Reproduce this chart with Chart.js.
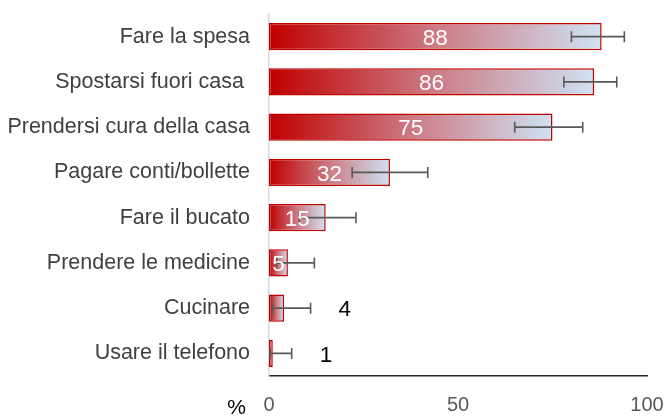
<!DOCTYPE html>
<html>
<head>
<meta charset="utf-8">
<script src="https://cdn.jsdelivr.net/npm/chart.js@4/dist/chart.umd.min.js"></script>
<style>
  body { margin: 0; background: #fff; }
  #wrap { width: 668px; height: 416px; }
</style>
</head>
<body>
<div id="wrap"><canvas id="chart-area" width="668" height="416"></canvas></div>
<script>
var categories = [
  'Fare la spesa',
  'Spostarsi fuori casa ',
  'Prendersi cura della casa',
  'Pagare conti/bollette',
  'Fare il bucato',
  'Prendere le medicine',
  'Cucinare',
  'Usare il telefono'
];
var values = [88, 86, 75, 32, 15, 5, 4, 1];
var errLow = [80, 78, 65, 22, 8, 2, 1, 0.3];
var errHigh = [94, 92, 83, 42, 23, 12, 11, 6];
var xTicks = [0, 50, 100];

var font = "'Liberation Sans', Arial, sans-serif";

function barGradient(c) {
  var chart = c.chart;
  if (!chart.chartArea) return '#c00000';
  var x = chart.scales.x;
  var x0 = x.getPixelForValue(0);
  var x1 = x.getPixelForValue(values[c.dataIndex]);
  var g = chart.ctx.createLinearGradient(x0, 0, x1, 0);
  g.addColorStop(0, '#c00000');
  g.addColorStop(0.5, '#cc7a84');
  g.addColorStop(1, '#cfe2f3');
  return g;
}

// error bars + value labels
var extras = {
  id: 'extras',
  afterDatasetsDraw: function(chart) {
    var ctx = chart.ctx;
    var x = chart.scales.x;
    var meta = chart.getDatasetMeta(0);
    ctx.save();
    ctx.strokeStyle = '#595959';
    ctx.lineWidth = 1.6;
    meta.data.forEach(function(bar, i) {
      var lo = x.getPixelForValue(errLow[i]);
      var hi = x.getPixelForValue(errHigh[i]);
      ctx.beginPath();
      ctx.moveTo(lo, bar.y); ctx.lineTo(hi, bar.y);
      ctx.moveTo(lo, bar.y - 5.5); ctx.lineTo(lo, bar.y + 5.5);
      ctx.moveTo(hi, bar.y - 5.5); ctx.lineTo(hi, bar.y + 5.5);
      ctx.stroke();
    });
    ctx.font = '22.5px ' + font;
    ctx.textBaseline = 'middle';
    meta.data.forEach(function(bar, i) {
      if (values[i] >= 5) {
        ctx.fillStyle = '#ffffff';
        ctx.textAlign = 'center';
        ctx.fillText(values[i], (bar.x + bar.base) / 2, bar.y + 2);
      } else {
        ctx.fillStyle = '#000000';
        ctx.textAlign = 'left';
        ctx.fillText(values[i], x.getPixelForValue(errHigh[i]) + 28, bar.y + 2);
      }
    });
    // axis unit
    ctx.font = '21px ' + font;
    ctx.fillStyle = '#000000';
    ctx.textAlign = 'right';
    ctx.fillText('%', x.left - 23, x.bottom - 8);
    ctx.restore();
  }
};

window.onload = function() {
  var ctx = document.getElementById('chart-area').getContext('2d');
  var config = {
    type: 'bar',
    data: {
      labels: categories,
      datasets: [{
        data: values,
        backgroundColor: barGradient,
        borderColor: '#c00000',
        borderWidth: 1.5,
        borderSkipped: false,
        barPercentage: 0.6,
        categoryPercentage: 1
      }]
    },
    options: {
      indexAxis: 'y',
      responsive: false,
      animation: false,
      layout: { padding: { top: 14, right: 21, left: 0, bottom: 0 } },
      plugins: {
        legend: { display: false },
        tooltip: { enabled: false }
      },
      scales: {
        x: {
          min: 0,
          max: 100,
          afterBuildTicks: function(s) {
            s.ticks = xTicks.map(function(v) { return { value: v }; });
          },
          grid: { display: false, drawTicks: false },
          border: { display: true, color: '#262626', width: 1.5 },
          ticks: {
            padding: 17,
            color: '#595959',
            font: { family: font, size: 20 }
          },
          afterFit: function(s) {
            s.height = 40;
            s.paddingLeft = 0;
            s.paddingRight = 0;
          }
        },
        y: {
          grid: { display: false, drawTicks: false },
          border: { display: true, color: '#d9d9d9', width: 1.5 },
          ticks: {
            padding: 19,
            color: '#404040',
            font: { family: font, size: 21.5 }
          },
          afterFit: function(s) {
            s.width = 269;
            s.paddingTop = 0;
            s.paddingBottom = 0;
          }
        }
      }
    },
    plugins: [extras]
  };
  window.myBar = new Chart(ctx, config);
};
</script>
</body>
</html>
